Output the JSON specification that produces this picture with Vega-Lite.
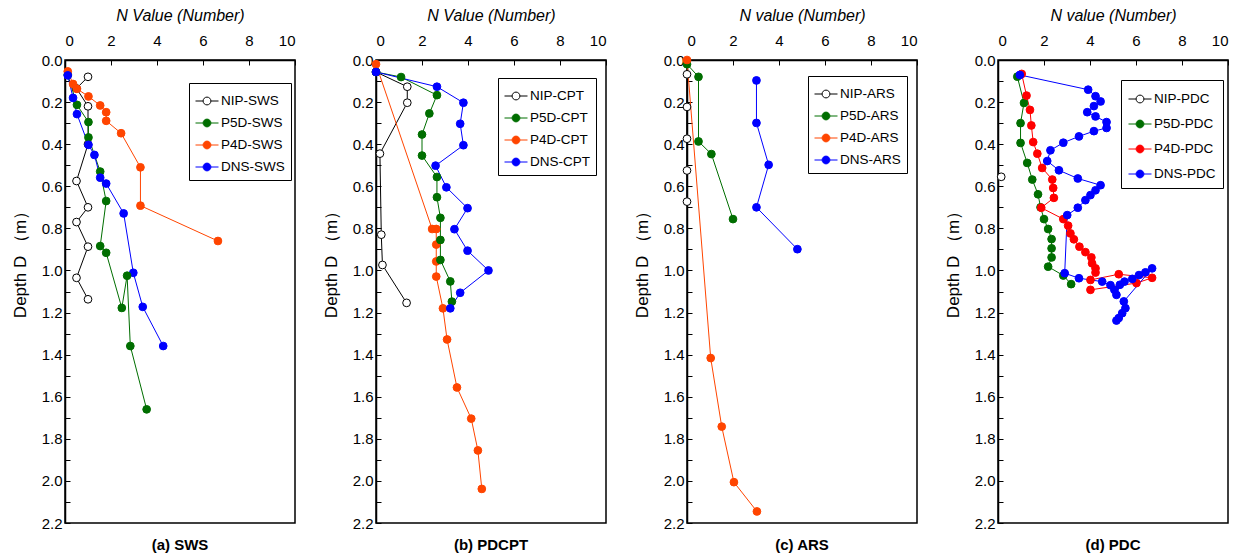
{
  "$schema": "https://vega.github.io/schema/vega-lite/v6.json",
  "background": "white",
  "padding": {"left": 10, "top": 6, "right": 5, "bottom": 5},
  "config": {
    "font": "Liberation Sans",
    "view": {"stroke": "#000", "strokeWidth": 1.5},
    "axis": {"labelFont": "Liberation Sans", "labelFontSize": 15, "labelColor": "#000", "titleColor": "#000", "domainColor": "#000", "tickColor": "#000", "grid": false, "domainWidth": 1.5, "tickWidth": 1, "titleFont": "Liberation Sans", "titleFontWeight": "normal", "titleFontSize": 16},
    "legend": {"labelFont": "Liberation Sans", "labelFontSize": 13.5, "labelColor": "#000"},
    "title": {"font": "Liberation Sans", "fontSize": 15, "fontWeight": "bold", "color": "#000"}
  },
  "datasets": {
    "d": [
      {"p":"a","s":"NIP-SWS","n":1.0,"d":0.08,"o":1},
      {"p":"a","s":"NIP-SWS","n":0.5,"d":0.135,"o":2},
      {"p":"a","s":"NIP-SWS","n":1.0,"d":0.22,"o":3},
      {"p":"a","s":"NIP-SWS","n":1.0,"d":0.40,"o":4},
      {"p":"a","s":"NIP-SWS","n":0.5,"d":0.575,"o":5},
      {"p":"a","s":"NIP-SWS","n":1.0,"d":0.70,"o":6},
      {"p":"a","s":"NIP-SWS","n":0.5,"d":0.77,"o":7},
      {"p":"a","s":"NIP-SWS","n":1.0,"d":0.887,"o":8},
      {"p":"a","s":"NIP-SWS","n":0.5,"d":1.035,"o":9},
      {"p":"a","s":"NIP-SWS","n":1.0,"d":1.137,"o":10},
      {"p":"a","s":"P5D-SWS","n":0.12,"d":0.07,"o":1},
      {"p":"a","s":"P5D-SWS","n":0.52,"d":0.213,"o":2},
      {"p":"a","s":"P5D-SWS","n":1.02,"d":0.295,"o":3},
      {"p":"a","s":"P5D-SWS","n":1.02,"d":0.368,"o":4},
      {"p":"a","s":"P5D-SWS","n":1.53,"d":0.53,"o":5},
      {"p":"a","s":"P5D-SWS","n":1.79,"d":0.67,"o":6},
      {"p":"a","s":"P5D-SWS","n":1.53,"d":0.884,"o":7},
      {"p":"a","s":"P5D-SWS","n":1.79,"d":0.916,"o":8},
      {"p":"a","s":"P5D-SWS","n":2.47,"d":1.178,"o":9},
      {"p":"a","s":"P5D-SWS","n":2.70,"d":1.025,"o":10},
      {"p":"a","s":"P5D-SWS","n":2.84,"d":1.359,"o":11},
      {"p":"a","s":"P5D-SWS","n":3.55,"d":1.66,"o":12},
      {"p":"a","s":"P4D-SWS","n":0.12,"d":0.054,"o":1},
      {"p":"a","s":"P4D-SWS","n":0.35,"d":0.114,"o":2},
      {"p":"a","s":"P4D-SWS","n":0.52,"d":0.137,"o":3},
      {"p":"a","s":"P4D-SWS","n":1.02,"d":0.173,"o":4},
      {"p":"a","s":"P4D-SWS","n":1.53,"d":0.216,"o":5},
      {"p":"a","s":"P4D-SWS","n":1.79,"d":0.248,"o":6},
      {"p":"a","s":"P4D-SWS","n":1.79,"d":0.289,"o":7},
      {"p":"a","s":"P4D-SWS","n":2.44,"d":0.348,"o":8},
      {"p":"a","s":"P4D-SWS","n":3.28,"d":0.51,"o":9},
      {"p":"a","s":"P4D-SWS","n":3.28,"d":0.692,"o":10},
      {"p":"a","s":"P4D-SWS","n":6.65,"d":0.86,"o":11},
      {"p":"a","s":"DNS-SWS","n":0.12,"d":0.073,"o":1},
      {"p":"a","s":"DNS-SWS","n":0.35,"d":0.18,"o":2},
      {"p":"a","s":"DNS-SWS","n":0.52,"d":0.257,"o":3},
      {"p":"a","s":"DNS-SWS","n":1.02,"d":0.403,"o":4},
      {"p":"a","s":"DNS-SWS","n":1.28,"d":0.451,"o":5},
      {"p":"a","s":"DNS-SWS","n":1.53,"d":0.559,"o":6},
      {"p":"a","s":"DNS-SWS","n":1.79,"d":0.587,"o":7},
      {"p":"a","s":"DNS-SWS","n":2.55,"d":0.729,"o":8},
      {"p":"a","s":"DNS-SWS","n":2.97,"d":1.011,"o":9},
      {"p":"a","s":"DNS-SWS","n":3.38,"d":1.173,"o":10},
      {"p":"a","s":"DNS-SWS","n":4.27,"d":1.359,"o":11},

      {"p":"b","s":"NIP-CPT","n":0,"d":0.057,"o":1},
      {"p":"b","s":"NIP-CPT","n":1.36,"d":0.127,"o":2},
      {"p":"b","s":"NIP-CPT","n":1.36,"d":0.203,"o":3},
      {"p":"b","s":"NIP-CPT","n":0.17,"d":0.445,"o":4},
      {"p":"b","s":"NIP-CPT","n":0.23,"d":0.83,"o":5},
      {"p":"b","s":"NIP-CPT","n":0.28,"d":0.974,"o":6},
      {"p":"b","s":"NIP-CPT","n":1.33,"d":1.154,"o":7},
      {"p":"b","s":"P5D-CPT","n":0,"d":0.057,"o":1},
      {"p":"b","s":"P5D-CPT","n":1.09,"d":0.081,"o":2},
      {"p":"b","s":"P5D-CPT","n":2.65,"d":0.167,"o":3},
      {"p":"b","s":"P5D-CPT","n":2.32,"d":0.254,"o":4},
      {"p":"b","s":"P5D-CPT","n":2.0,"d":0.354,"o":5},
      {"p":"b","s":"P5D-CPT","n":2.0,"d":0.454,"o":6},
      {"p":"b","s":"P5D-CPT","n":2.65,"d":0.556,"o":7},
      {"p":"b","s":"P5D-CPT","n":2.65,"d":0.652,"o":8},
      {"p":"b","s":"P5D-CPT","n":2.80,"d":0.75,"o":9},
      {"p":"b","s":"P5D-CPT","n":2.80,"d":0.855,"o":10},
      {"p":"b","s":"P5D-CPT","n":2.80,"d":0.95,"o":11},
      {"p":"b","s":"P5D-CPT","n":3.23,"d":1.052,"o":12},
      {"p":"b","s":"P5D-CPT","n":3.30,"d":1.148,"o":13},
      {"p":"b","s":"P4D-CPT","n":0,"d":0.02,"o":1},
      {"p":"b","s":"P4D-CPT","n":2.44,"d":0.803,"o":2},
      {"p":"b","s":"P4D-CPT","n":2.62,"d":0.803,"o":3},
      {"p":"b","s":"P4D-CPT","n":2.62,"d":0.877,"o":4},
      {"p":"b","s":"P4D-CPT","n":2.62,"d":0.957,"o":5},
      {"p":"b","s":"P4D-CPT","n":2.62,"d":1.029,"o":6},
      {"p":"b","s":"P4D-CPT","n":2.91,"d":1.18,"o":7},
      {"p":"b","s":"P4D-CPT","n":3.09,"d":1.328,"o":8},
      {"p":"b","s":"P4D-CPT","n":3.52,"d":1.556,"o":9},
      {"p":"b","s":"P4D-CPT","n":4.14,"d":1.704,"o":10},
      {"p":"b","s":"P4D-CPT","n":4.43,"d":1.855,"o":11},
      {"p":"b","s":"P4D-CPT","n":4.6,"d":2.038,"o":12},
      {"p":"b","s":"DNS-CPT","n":0,"d":0.057,"o":1},
      {"p":"b","s":"DNS-CPT","n":2.65,"d":0.127,"o":2},
      {"p":"b","s":"DNS-CPT","n":3.80,"d":0.203,"o":3},
      {"p":"b","s":"DNS-CPT","n":3.66,"d":0.303,"o":4},
      {"p":"b","s":"DNS-CPT","n":3.80,"d":0.405,"o":5},
      {"p":"b","s":"DNS-CPT","n":2.59,"d":0.502,"o":6},
      {"p":"b","s":"DNS-CPT","n":3.06,"d":0.605,"o":7},
      {"p":"b","s":"DNS-CPT","n":3.98,"d":0.704,"o":8},
      {"p":"b","s":"DNS-CPT","n":3.41,"d":0.804,"o":9},
      {"p":"b","s":"DNS-CPT","n":3.98,"d":0.906,"o":10},
      {"p":"b","s":"DNS-CPT","n":4.89,"d":1.0,"o":11},
      {"p":"b","s":"DNS-CPT","n":3.66,"d":1.106,"o":12},
      {"p":"b","s":"DNS-CPT","n":3.23,"d":1.18,"o":13},

      {"p":"c","s":"NIP-ARS","n":0,"d":0.068,"o":1},
      {"p":"c","s":"NIP-ARS","n":0,"d":0.223,"o":2},
      {"p":"c","s":"NIP-ARS","n":0,"d":0.374,"o":3},
      {"p":"c","s":"NIP-ARS","n":0,"d":0.525,"o":4},
      {"p":"c","s":"NIP-ARS","n":0,"d":0.673,"o":5},
      {"p":"c","s":"P5D-ARS","n":0,"d":0.02,"o":1},
      {"p":"c","s":"P5D-ARS","n":0.5,"d":0.08,"o":2},
      {"p":"c","s":"P5D-ARS","n":0.5,"d":0.387,"o":3},
      {"p":"c","s":"P5D-ARS","n":1.06,"d":0.447,"o":4},
      {"p":"c","s":"P5D-ARS","n":2.0,"d":0.756,"o":5},
      {"p":"c","s":"P4D-ARS","n":0,"d":0.0,"o":1},
      {"p":"c","s":"P4D-ARS","n":1.03,"d":1.416,"o":2},
      {"p":"c","s":"P4D-ARS","n":1.51,"d":1.742,"o":3},
      {"p":"c","s":"P4D-ARS","n":2.04,"d":2.006,"o":4},
      {"p":"c","s":"P4D-ARS","n":3.04,"d":2.145,"o":5},
      {"p":"c","s":"DNS-ARS","n":3.02,"d":0.097,"o":1},
      {"p":"c","s":"DNS-ARS","n":3.02,"d":0.299,"o":2},
      {"p":"c","s":"DNS-ARS","n":3.55,"d":0.498,"o":3},
      {"p":"c","s":"DNS-ARS","n":3.02,"d":0.70,"o":4},
      {"p":"c","s":"DNS-ARS","n":4.8,"d":0.899,"o":5},

      {"p":"d","s":"NIP-PDC","n":0.14,"d":0.555,"o":1},
      {"p":"d","s":"P5D-PDC","n":0.84,"d":0.079,"o":1},
      {"p":"d","s":"P5D-PDC","n":1.13,"d":0.204,"o":2},
      {"p":"d","s":"P5D-PDC","n":0.98,"d":0.30,"o":3},
      {"p":"d","s":"P5D-PDC","n":0.98,"d":0.394,"o":4},
      {"p":"d","s":"P5D-PDC","n":1.27,"d":0.489,"o":5},
      {"p":"d","s":"P5D-PDC","n":1.49,"d":0.568,"o":6},
      {"p":"d","s":"P5D-PDC","n":1.74,"d":0.638,"o":7},
      {"p":"d","s":"P5D-PDC","n":1.85,"d":0.70,"o":8},
      {"p":"d","s":"P5D-PDC","n":2.0,"d":0.756,"o":9},
      {"p":"d","s":"P5D-PDC","n":2.18,"d":0.803,"o":10},
      {"p":"d","s":"P5D-PDC","n":2.33,"d":0.851,"o":11},
      {"p":"d","s":"P5D-PDC","n":2.33,"d":0.895,"o":12},
      {"p":"d","s":"P5D-PDC","n":2.33,"d":0.938,"o":13},
      {"p":"d","s":"P5D-PDC","n":2.18,"d":0.982,"o":14},
      {"p":"d","s":"P5D-PDC","n":2.84,"d":1.024,"o":15},
      {"p":"d","s":"P5D-PDC","n":3.18,"d":1.065,"o":16},
      {"p":"d","s":"P4D-PDC","n":1.03,"d":0.066,"o":1},
      {"p":"d","s":"P4D-PDC","n":1.24,"d":0.169,"o":2},
      {"p":"d","s":"P4D-PDC","n":1.39,"d":0.237,"o":3},
      {"p":"d","s":"P4D-PDC","n":1.45,"d":0.311,"o":4},
      {"p":"d","s":"P4D-PDC","n":1.53,"d":0.39,"o":5},
      {"p":"d","s":"P4D-PDC","n":1.71,"d":0.445,"o":6},
      {"p":"d","s":"P4D-PDC","n":1.92,"d":0.513,"o":7},
      {"p":"d","s":"P4D-PDC","n":2.36,"d":0.568,"o":8},
      {"p":"d","s":"P4D-PDC","n":2.40,"d":0.608,"o":9},
      {"p":"d","s":"P4D-PDC","n":2.43,"d":0.655,"o":10},
      {"p":"d","s":"P4D-PDC","n":1.88,"d":0.702,"o":11},
      {"p":"d","s":"P4D-PDC","n":2.84,"d":0.756,"o":12},
      {"p":"d","s":"P4D-PDC","n":3.05,"d":0.787,"o":13},
      {"p":"d","s":"P4D-PDC","n":3.15,"d":0.824,"o":14},
      {"p":"d","s":"P4D-PDC","n":3.3,"d":0.852,"o":15},
      {"p":"d","s":"P4D-PDC","n":3.54,"d":0.887,"o":16},
      {"p":"d","s":"P4D-PDC","n":3.8,"d":0.913,"o":17},
      {"p":"d","s":"P4D-PDC","n":4.06,"d":0.938,"o":18},
      {"p":"d","s":"P4D-PDC","n":4.09,"d":0.966,"o":19},
      {"p":"d","s":"P4D-PDC","n":4.24,"d":0.99,"o":20},
      {"p":"d","s":"P4D-PDC","n":4.24,"d":1.01,"o":21},
      {"p":"d","s":"P4D-PDC","n":4.02,"d":1.045,"o":22},
      {"p":"d","s":"P4D-PDC","n":5.25,"d":1.018,"o":23},
      {"p":"d","s":"P4D-PDC","n":6.70,"d":1.035,"o":24},
      {"p":"d","s":"P4D-PDC","n":6.02,"d":1.06,"o":25},
      {"p":"d","s":"P4D-PDC","n":4.02,"d":1.092,"o":26},
      {"p":"d","s":"DNS-PDC","n":0.95,"d":0.071,"o":1},
      {"p":"d","s":"DNS-PDC","n":3.92,"d":0.141,"o":2},
      {"p":"d","s":"DNS-PDC","n":4.24,"d":0.172,"o":3},
      {"p":"d","s":"DNS-PDC","n":4.46,"d":0.197,"o":4},
      {"p":"d","s":"DNS-PDC","n":4.17,"d":0.219,"o":5},
      {"p":"d","s":"DNS-PDC","n":3.88,"d":0.248,"o":6},
      {"p":"d","s":"DNS-PDC","n":4.24,"d":0.268,"o":7},
      {"p":"d","s":"DNS-PDC","n":4.72,"d":0.295,"o":8},
      {"p":"d","s":"DNS-PDC","n":4.72,"d":0.323,"o":9},
      {"p":"d","s":"DNS-PDC","n":4.17,"d":0.338,"o":10},
      {"p":"d","s":"DNS-PDC","n":3.52,"d":0.363,"o":11},
      {"p":"d","s":"DNS-PDC","n":2.84,"d":0.393,"o":12},
      {"p":"d","s":"DNS-PDC","n":2.28,"d":0.429,"o":13},
      {"p":"d","s":"DNS-PDC","n":2.14,"d":0.48,"o":14},
      {"p":"d","s":"DNS-PDC","n":2.65,"d":0.524,"o":15},
      {"p":"d","s":"DNS-PDC","n":3.47,"d":0.563,"o":16},
      {"p":"d","s":"DNS-PDC","n":4.46,"d":0.595,"o":17},
      {"p":"d","s":"DNS-PDC","n":4.24,"d":0.619,"o":18},
      {"p":"d","s":"DNS-PDC","n":4.02,"d":0.642,"o":19},
      {"p":"d","s":"DNS-PDC","n":3.80,"d":0.666,"o":20},
      {"p":"d","s":"DNS-PDC","n":3.47,"d":0.702,"o":21},
      {"p":"d","s":"DNS-PDC","n":3.01,"d":0.737,"o":22},
      {"p":"d","s":"DNS-PDC","n":2.9,"d":1.013,"o":23},
      {"p":"d","s":"DNS-PDC","n":3.52,"d":1.037,"o":24},
      {"p":"d","s":"DNS-PDC","n":4.53,"d":1.053,"o":25},
      {"p":"d","s":"DNS-PDC","n":4.89,"d":1.07,"o":26},
      {"p":"d","s":"DNS-PDC","n":5.06,"d":1.092,"o":27},
      {"p":"d","s":"DNS-PDC","n":5.15,"d":1.116,"o":28},
      {"p":"d","s":"DNS-PDC","n":5.3,"d":1.068,"o":29},
      {"p":"d","s":"DNS-PDC","n":5.5,"d":1.053,"o":30},
      {"p":"d","s":"DNS-PDC","n":5.84,"d":1.04,"o":31},
      {"p":"d","s":"DNS-PDC","n":6.13,"d":1.022,"o":32},
      {"p":"d","s":"DNS-PDC","n":6.41,"d":1.009,"o":33},
      {"p":"d","s":"DNS-PDC","n":6.70,"d":0.99,"o":34},
      {"p":"d","s":"DNS-PDC","n":5.47,"d":1.147,"o":35},
      {"p":"d","s":"DNS-PDC","n":5.54,"d":1.179,"o":36},
      {"p":"d","s":"DNS-PDC","n":5.40,"d":1.203,"o":37},
      {"p":"d","s":"DNS-PDC","n":5.25,"d":1.226,"o":38},
      {"p":"d","s":"DNS-PDC","n":5.15,"d":1.238,"o":39}
    ]
  },
  "spacing": 81,
  "bounds": "flush",
  "resolve": {"scale": {"stroke": "independent", "fill": "independent", "x": "independent", "y": "independent"}, "legend": {"stroke": "independent", "fill": "independent"}},
  "hconcat": [
    {
      "width": 230, "height": 463,
      "title": {"text": "(a) SWS", "orient": "bottom", "offset": 7},
      "data": {"name": "d"},
      "transform": [{"filter": "datum.p == 'a'"}],
      "encoding": {
        "x": {"field": "n", "type": "quantitative", "scale": {"domain": [0, 10], "nice": false}, "axis": {"orient": "top", "values": [0, 2, 4, 6, 8, 10], "title": "N Value (Number)", "titleFontStyle": "italic", "tickSize": -5, "labelPadding": 17, "titlePadding": 10}},
        "y": {"field": "d", "type": "quantitative", "scale": {"domain": [0, 2.2], "reverse": true, "nice": false, "zero": false}, "axis": {"values": [0,0.1,0.2,0.3,0.4,0.5,0.6,0.7,0.8,0.9,1.0,1.1,1.2,1.3,1.4,1.5,1.6,1.7,1.8,1.9,2.0,2.1,2.2], "labelExpr": "round(datum.value*10) % 2 == 0 ? format(datum.value, '.1f') : ''", "tickSize": -5, "labelPadding": 8, "title": "Depth  D （m）", "titleFontSize": 17, "titlePadding": 12, "titleY": 200}},
        "order": {"field": "o", "type": "quantitative"}
      },
      "layer": [
        {"mark": {"type": "line", "strokeWidth": 1},
         "encoding": {"stroke": {"field": "s", "type": "nominal", "scale": {"domain": ["NIP-SWS","P5D-SWS","P4D-SWS","DNS-SWS"], "range": ["#000000","#006E00","#FF4500","#0000FF"]},
           "legend": {"orient": "none", "legendX": 124, "legendY": 23, "title": null, "symbolType": "M-1,0L-0.34,0M0.34,0L1,0M-0.34,0A0.34,0.34,0,1,1,0.34,0A0.34,0.34,0,1,1,-0.34,0Z", "symbolSize": 529, "symbolStrokeWidth": 1, "strokeColor": "#000", "fillColor": "white", "padding": 6, "rowPadding": 3, "labelOffset": 2}}}},
        {"mark": {"type": "point", "filled": true, "size": 60, "strokeWidth": 1, "opacity": 1},
         "encoding": {
           "stroke": {"field": "s", "type": "nominal", "scale": {"domain": ["NIP-SWS","P5D-SWS","P4D-SWS","DNS-SWS"], "range": ["#000000","#006E00","#FF4500","#0000FF"]},
             "legend": {"orient": "none", "legendX": 124, "legendY": 23, "title": null, "symbolType": "M-1,0L-0.34,0M0.34,0L1,0M-0.34,0A0.34,0.34,0,1,1,0.34,0A0.34,0.34,0,1,1,-0.34,0Z", "symbolSize": 529, "symbolStrokeWidth": 1, "strokeColor": "#000", "fillColor": "white", "padding": 6, "rowPadding": 3, "labelOffset": 2}},
           "fill": {"field": "s", "type": "nominal", "scale": {"domain": ["NIP-SWS","P5D-SWS","P4D-SWS","DNS-SWS"], "range": ["#FFFFFF","#006E00","#FF4500","#0000FF"]},
             "legend": {"orient": "none", "legendX": 124, "legendY": 23, "title": null, "symbolType": "M-1,0L-0.34,0M0.34,0L1,0M-0.34,0A0.34,0.34,0,1,1,0.34,0A0.34,0.34,0,1,1,-0.34,0Z", "symbolSize": 529, "symbolStrokeWidth": 1, "strokeColor": "#000", "fillColor": "white", "padding": 6, "rowPadding": 3, "labelOffset": 2}}}}
      ]
    },
    {
      "width": 230, "height": 463,
      "title": {"text": "(b) PDCPT", "orient": "bottom", "offset": 7},
      "data": {"name": "d"},
      "transform": [{"filter": "datum.p == 'b'"}],
      "encoding": {
        "x": {"field": "n", "type": "quantitative", "scale": {"domain": [0, 10], "nice": false}, "axis": {"orient": "top", "values": [0, 2, 4, 6, 8, 10], "title": "N Value (Number)", "titleFontStyle": "italic", "tickSize": -5, "labelPadding": 17, "titlePadding": 10}},
        "y": {"field": "d", "type": "quantitative", "scale": {"domain": [0, 2.2], "reverse": true, "nice": false, "zero": false}, "axis": {"values": [0,0.1,0.2,0.3,0.4,0.5,0.6,0.7,0.8,0.9,1.0,1.1,1.2,1.3,1.4,1.5,1.6,1.7,1.8,1.9,2.0,2.1,2.2], "labelExpr": "round(datum.value*10) % 2 == 0 ? format(datum.value, '.1f') : ''", "tickSize": -5, "labelPadding": 8, "title": "Depth  D （m）", "titleFontSize": 17, "titlePadding": 12, "titleY": 200}},
        "order": {"field": "o", "type": "quantitative"}
      },
      "layer": [
        {"mark": {"type": "line", "strokeWidth": 1},
         "encoding": {"stroke": {"field": "s", "type": "nominal", "scale": {"domain": ["NIP-CPT","P5D-CPT","P4D-CPT","DNS-CPT"], "range": ["#000000","#006E00","#FF4500","#0000FF"]},
           "legend": {"orient": "none", "legendX": 122, "legendY": 18, "title": null, "symbolType": "M-1,0L-0.34,0M0.34,0L1,0M-0.34,0A0.34,0.34,0,1,1,0.34,0A0.34,0.34,0,1,1,-0.34,0Z", "symbolSize": 529, "symbolStrokeWidth": 1, "strokeColor": "#000", "fillColor": "white", "padding": 6, "rowPadding": 3, "labelOffset": 2}}}},
        {"mark": {"type": "point", "filled": true, "size": 60, "strokeWidth": 1, "opacity": 1},
         "encoding": {
           "stroke": {"field": "s", "type": "nominal", "scale": {"domain": ["NIP-CPT","P5D-CPT","P4D-CPT","DNS-CPT"], "range": ["#000000","#006E00","#FF4500","#0000FF"]},
             "legend": {"orient": "none", "legendX": 122, "legendY": 18, "title": null, "symbolType": "M-1,0L-0.34,0M0.34,0L1,0M-0.34,0A0.34,0.34,0,1,1,0.34,0A0.34,0.34,0,1,1,-0.34,0Z", "symbolSize": 529, "symbolStrokeWidth": 1, "strokeColor": "#000", "fillColor": "white", "padding": 6, "rowPadding": 3, "labelOffset": 2}},
           "fill": {"field": "s", "type": "nominal", "scale": {"domain": ["NIP-CPT","P5D-CPT","P4D-CPT","DNS-CPT"], "range": ["#FFFFFF","#006E00","#FF4500","#0000FF"]},
             "legend": {"orient": "none", "legendX": 122, "legendY": 18, "title": null, "symbolType": "M-1,0L-0.34,0M0.34,0L1,0M-0.34,0A0.34,0.34,0,1,1,0.34,0A0.34,0.34,0,1,1,-0.34,0Z", "symbolSize": 529, "symbolStrokeWidth": 1, "strokeColor": "#000", "fillColor": "white", "padding": 6, "rowPadding": 3, "labelOffset": 2}}}}
      ]
    },
    {
      "width": 230, "height": 463,
      "title": {"text": "(c) ARS", "orient": "bottom", "offset": 7},
      "data": {"name": "d"},
      "transform": [{"filter": "datum.p == 'c'"}],
      "encoding": {
        "x": {"field": "n", "type": "quantitative", "scale": {"domain": [0, 10], "nice": false}, "axis": {"orient": "top", "values": [0, 2, 4, 6, 8, 10], "title": "N value (Number)", "titleFontStyle": "italic", "tickSize": -5, "labelPadding": 17, "titlePadding": 10}},
        "y": {"field": "d", "type": "quantitative", "scale": {"domain": [0, 2.2], "reverse": true, "nice": false, "zero": false}, "axis": {"values": [0,0.1,0.2,0.3,0.4,0.5,0.6,0.7,0.8,0.9,1.0,1.1,1.2,1.3,1.4,1.5,1.6,1.7,1.8,1.9,2.0,2.1,2.2], "labelExpr": "round(datum.value*10) % 2 == 0 ? format(datum.value, '.1f') : ''", "tickSize": -5, "labelPadding": 8, "title": "Depth  D （m）", "titleFontSize": 17, "titlePadding": 12, "titleY": 200}},
        "order": {"field": "o", "type": "quantitative"}
      },
      "layer": [
        {"mark": {"type": "line", "strokeWidth": 1},
         "encoding": {"stroke": {"field": "s", "type": "nominal", "scale": {"domain": ["NIP-ARS","P5D-ARS","P4D-ARS","DNS-ARS"], "range": ["#000000","#006E00","#FF4500","#0000FF"]},
           "legend": {"orient": "none", "legendX": 121, "legendY": 16, "title": null, "symbolType": "M-1,0L-0.34,0M0.34,0L1,0M-0.34,0A0.34,0.34,0,1,1,0.34,0A0.34,0.34,0,1,1,-0.34,0Z", "symbolSize": 529, "symbolStrokeWidth": 1, "strokeColor": "#000", "fillColor": "white", "padding": 6, "rowPadding": 3, "labelOffset": 2}}}},
        {"mark": {"type": "point", "filled": true, "size": 60, "strokeWidth": 1, "opacity": 1},
         "encoding": {
           "stroke": {"field": "s", "type": "nominal", "scale": {"domain": ["NIP-ARS","P5D-ARS","P4D-ARS","DNS-ARS"], "range": ["#000000","#006E00","#FF4500","#0000FF"]},
             "legend": {"orient": "none", "legendX": 121, "legendY": 16, "title": null, "symbolType": "M-1,0L-0.34,0M0.34,0L1,0M-0.34,0A0.34,0.34,0,1,1,0.34,0A0.34,0.34,0,1,1,-0.34,0Z", "symbolSize": 529, "symbolStrokeWidth": 1, "strokeColor": "#000", "fillColor": "white", "padding": 6, "rowPadding": 3, "labelOffset": 2}},
           "fill": {"field": "s", "type": "nominal", "scale": {"domain": ["NIP-ARS","P5D-ARS","P4D-ARS","DNS-ARS"], "range": ["#FFFFFF","#006E00","#FF4500","#0000FF"]},
             "legend": {"orient": "none", "legendX": 121, "legendY": 16, "title": null, "symbolType": "M-1,0L-0.34,0M0.34,0L1,0M-0.34,0A0.34,0.34,0,1,1,0.34,0A0.34,0.34,0,1,1,-0.34,0Z", "symbolSize": 529, "symbolStrokeWidth": 1, "strokeColor": "#000", "fillColor": "white", "padding": 6, "rowPadding": 3, "labelOffset": 2}}}}
      ]
    },
    {
      "width": 230, "height": 463,
      "title": {"text": "(d) PDC", "orient": "bottom", "offset": 7},
      "data": {"name": "d"},
      "transform": [{"filter": "datum.p == 'd'"}],
      "encoding": {
        "x": {"field": "n", "type": "quantitative", "scale": {"domain": [0, 10], "nice": false}, "axis": {"orient": "top", "values": [0, 2, 4, 6, 8, 10], "title": "N value (Number)", "titleFontStyle": "italic", "tickSize": -5, "labelPadding": 17, "titlePadding": 10}},
        "y": {"field": "d", "type": "quantitative", "scale": {"domain": [0, 2.2], "reverse": true, "nice": false, "zero": false}, "axis": {"values": [0,0.1,0.2,0.3,0.4,0.5,0.6,0.7,0.8,0.9,1.0,1.1,1.2,1.3,1.4,1.5,1.6,1.7,1.8,1.9,2.0,2.1,2.2], "labelExpr": "round(datum.value*10) % 2 == 0 ? format(datum.value, '.1f') : ''", "tickSize": -5, "labelPadding": 8, "title": "Depth  D （m）", "titleFontSize": 17, "titlePadding": 12, "titleY": 200}},
        "order": {"field": "o", "type": "quantitative"}
      },
      "layer": [
        {"mark": {"type": "line", "strokeWidth": 1},
         "encoding": {"stroke": {"field": "s", "type": "nominal", "scale": {"domain": ["NIP-PDC","P5D-PDC","P4D-PDC","DNS-PDC"], "range": ["#000000","#006E00","#FF0000","#0000FF"]},
           "legend": {"orient": "none", "legendX": 123, "legendY": 20, "title": null, "symbolType": "M-1,0L-0.34,0M0.34,0L1,0M-0.34,0A0.34,0.34,0,1,1,0.34,0A0.34,0.34,0,1,1,-0.34,0Z", "symbolSize": 529, "symbolStrokeWidth": 1, "strokeColor": "#000", "fillColor": "white", "padding": 7, "rowPadding": 6, "labelOffset": 2}}}},
        {"mark": {"type": "point", "filled": true, "size": 60, "strokeWidth": 1, "opacity": 1},
         "encoding": {
           "stroke": {"field": "s", "type": "nominal", "scale": {"domain": ["NIP-PDC","P5D-PDC","P4D-PDC","DNS-PDC"], "range": ["#000000","#006E00","#FF0000","#0000FF"]},
             "legend": {"orient": "none", "legendX": 123, "legendY": 20, "title": null, "symbolType": "M-1,0L-0.34,0M0.34,0L1,0M-0.34,0A0.34,0.34,0,1,1,0.34,0A0.34,0.34,0,1,1,-0.34,0Z", "symbolSize": 529, "symbolStrokeWidth": 1, "strokeColor": "#000", "fillColor": "white", "padding": 7, "rowPadding": 6, "labelOffset": 2}},
           "fill": {"field": "s", "type": "nominal", "scale": {"domain": ["NIP-PDC","P5D-PDC","P4D-PDC","DNS-PDC"], "range": ["#FFFFFF","#006E00","#FF0000","#0000FF"]},
             "legend": {"orient": "none", "legendX": 123, "legendY": 20, "title": null, "symbolType": "M-1,0L-0.34,0M0.34,0L1,0M-0.34,0A0.34,0.34,0,1,1,0.34,0A0.34,0.34,0,1,1,-0.34,0Z", "symbolSize": 529, "symbolStrokeWidth": 1, "strokeColor": "#000", "fillColor": "white", "padding": 7, "rowPadding": 6, "labelOffset": 2}}}}
      ]
    }
  ]
}
